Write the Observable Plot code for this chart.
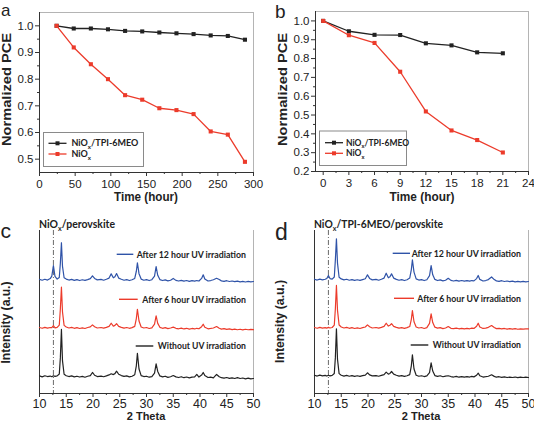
<!DOCTYPE html>
<html>
<head>
<meta charset="utf-8">
<script src="https://cdn.jsdelivr.net/npm/d3@7"></script>
<script src="https://cdn.jsdelivr.net/npm/@observablehq/plot@0.6"></script>
<style>
  html, body { margin: 0; padding: 0; background: #fff; }
  #fig { position: relative; width: 534px; height: 423px; overflow: hidden; background: #fff; }
  #fig svg { position: absolute; }
</style>
</head>
<body>
<div id="fig"></div>
<script>
// ---- (a) stability under continuous illumination, 0–288 h ----
const hoursA = [24, 48, 72, 96, 120, 144, 168, 192, 216, 240, 264, 288];
const pceA_TPI = [1.000, 0.990, 0.990, 0.987, 0.981, 0.979, 0.975, 0.972, 0.969, 0.964, 0.962, 0.948];
const pceA_NiO = [1.000, 0.919, 0.856, 0.800, 0.740, 0.723, 0.691, 0.684, 0.669, 0.604, 0.592, 0.490];

// ---- (b) stability under UV irradiation, 0–21 h ----
const hoursB = [0, 3, 6, 9, 12, 15, 18, 21];
const pceB_TPI = [1.000, 0.945, 0.926, 0.925, 0.881, 0.870, 0.833, 0.828];
const pceB_NiO = [1.000, 0.924, 0.883, 0.730, 0.519, 0.418, 0.367, 0.301];

// ---- axis ticks ----
const ticksA_x = [0, 50, 100, 150, 200, 250, 300];
const minorA_x = [25, 75, 125, 175, 225, 275];
const ticksA_y = [0.5, 0.6, 0.7, 0.8, 0.9, 1.0];
const minorA_y = [0.55, 0.65, 0.75, 0.85, 0.95];
const ticksB_x = [0, 3, 6, 9, 12, 15, 18, 21, 24];
const minorB_x = [1.5, 4.5, 7.5, 10.5, 13.5, 16.5, 19.5, 22.5];
const ticksB_y = [0.2, 0.3, 0.4, 0.5, 0.6, 0.7, 0.8, 0.9, 1.0];
const minorB_y = [0.25, 0.35, 0.45, 0.55, 0.65, 0.75, 0.85, 0.95];
const ticksXRD = [10, 15, 20, 25, 30, 35, 40, 45, 50];
const minorXRD = [12.5, 17.5, 22.5, 27.5, 32.5, 37.5, 42.5, 47.5];

// ---- XRD patterns (2θ in degrees, stacked intensity in a.u.) ----
const twoTheta = [
  10, 10.5, 11, 11.5, 12, 12.3, 12.6, 12.9, 13.3, 13.7,
  13.9, 14.1, 14.3, 14.6, 15, 15.5, 16, 16.5, 17, 17.5,
  18, 18.5, 19, 19.5, 19.9, 20.3, 20.8, 21.5, 22, 22.5,
  23, 23.4, 23.8, 24.1, 24.4, 24.8, 25.3, 25.8, 26.3, 26.8,
  27.3, 27.8, 28.1, 28.3, 28.6, 29, 29.5, 30, 30.5, 31,
  31.5, 31.8, 32.1, 32.5, 33, 33.5, 34, 34.5, 35, 35.5,
  36, 36.5, 37, 37.5, 38, 38.5, 39, 39.4, 39.8, 40.3,
  40.6, 40.9, 41.5, 42, 42.5, 43.1, 43.6, 44, 44.5, 45,
  45.5, 46, 46.5, 47, 47.5, 48, 48.5, 49, 49.5, 50
];
const xrdC_none = [
  10.8, 10.2, 10.9, 10.4, 10.7, 10.3, 10.9, 10.5, 10.8, 12.0,
  22, 39.3, 20, 11.8, 10.9, 10.4, 10.8, 10.2, 10.6, 10.1,
  10.5, 10.0, 10.6, 11.0, 12.9, 11.2, 10.4, 10.7, 10.3, 10.8,
  11.4, 12.1, 11.6, 12.2, 13.7, 11.8, 11.0, 10.5, 10.8, 10.2,
  10.6, 11.5, 17, 24.7, 15, 11.0, 10.4, 10.6, 10.0, 10.4,
  12.5, 18.2, 13.5, 10.8, 10.2, 10.6, 9.9, 10.3, 11.0, 10.2,
  9.8, 10.3, 9.7, 10.1, 9.6, 10.0, 10.2, 11.7, 10.1, 11.3,
  12.9, 11.0, 9.8, 10.0, 9.6, 11.7, 10.3, 9.7, 9.4, 9.8,
  9.3, 9.6, 9.2, 9.7, 9.2, 9.5, 9.0, 9.4, 9.0, 9.2
];
const xrdC_6h = [
  40.5, 40.0, 40.6, 40.1, 40.5, 40.4, 41.7, 40.3, 40.6, 42.0,
  52, 65.2, 50, 41.8, 40.8, 40.2, 40.6, 40.0, 40.4, 39.9,
  40.3, 39.9, 40.5, 40.9, 42.1, 41.0, 40.2, 40.5, 40.1, 40.6,
  41.2, 43.1, 41.3, 41.8, 42.8, 41.2, 40.6, 40.1, 40.5, 40.0,
  40.4, 41.2, 46, 51.7, 44.5, 40.8, 40.2, 40.5, 39.9, 40.3,
  42.5, 47.7, 43.0, 40.6, 40.0, 40.4, 39.8, 40.2, 40.7, 40.0,
  39.7, 40.1, 39.6, 40.0, 39.5, 39.9, 39.6, 40.0, 39.7, 41.0,
  42.5, 40.6, 39.7, 39.9, 40.2, 41.1, 40.0, 39.5, 39.8, 39.3,
  39.6, 39.2, 39.5, 39.1, 39.4, 39.0, 39.4, 39.1, 39.3, 39.2
];
const xrdC_12h = [
  70.0, 69.5, 70.1, 69.6, 70.5, 72.0, 78.5, 71.8, 70.2, 71.2,
  80, 92.5, 78, 71.0, 70.2, 69.6, 70.0, 69.4, 69.9, 69.3,
  69.8, 69.4, 69.9, 70.5, 72.2, 70.6, 69.7, 70.0, 69.5, 70.1,
  70.8, 73.4, 71.0, 71.6, 73.6, 70.8, 70.1, 69.5, 69.9, 69.3,
  69.8, 70.6, 75, 80.2, 73.5, 70.2, 69.5, 69.9, 69.3, 69.8,
  72.0, 77.9, 72.5, 69.9, 69.3, 69.7, 69.1, 69.5, 70.6, 69.4,
  69.0, 69.4, 68.9, 69.3, 68.8, 69.2, 68.9, 69.3, 69.0, 70.6,
  72.8, 70.2, 69.0, 69.3, 69.8, 70.7, 69.9, 69.1, 68.8, 69.2,
  68.7, 69.0, 68.6, 68.9, 68.5, 68.8, 68.4, 68.8, 68.5, 68.7
];
const xrdD_none = [
  11.2, 10.7, 11.3, 10.8, 11.1, 10.7, 11.2, 10.8, 11.1, 12.3,
  22, 39.7, 21, 12.2, 11.2, 10.7, 11.1, 10.6, 11.0, 10.5,
  10.9, 10.5, 11.0, 11.3, 12.7, 11.4, 10.8, 11.0, 10.6, 11.1,
  11.6, 13.1, 11.9, 12.3, 13.5, 11.9, 11.2, 10.7, 11.0, 10.5,
  10.9, 11.6, 17, 23.7, 15, 11.2, 10.6, 10.9, 10.4, 10.8,
  12.8, 18.8, 13.8, 11.0, 10.5, 10.9, 10.3, 10.7, 10.9, 10.4,
  10.1, 10.5, 10.0, 10.4, 10.0, 10.3, 10.1, 10.5, 10.2, 11.2,
  12.5, 10.9, 10.1, 10.3, 10.6, 11.5, 10.5, 10.0, 10.3, 9.9,
  10.2, 9.8, 10.1, 9.8, 10.1, 9.7, 10.0, 9.8, 10.0, 9.8
];
const xrdD_6h = [
  40.5, 40.0, 40.6, 40.1, 40.4, 40.1, 40.6, 40.2, 40.5, 42.0,
  52, 66.3, 51, 42.0, 40.8, 40.2, 40.6, 40.0, 40.4, 39.9,
  40.3, 39.9, 40.4, 40.8, 42.1, 41.0, 40.2, 40.5, 40.1, 40.6,
  41.2, 43.1, 41.4, 41.9, 42.8, 41.2, 40.6, 40.1, 40.4, 40.0,
  40.4, 41.1, 45.5, 50.9, 44, 40.8, 40.2, 40.5, 39.9, 40.4,
  43, 48.9, 43.5, 40.7, 40.1, 40.4, 39.8, 40.2, 41.1, 40.0,
  39.8, 40.1, 39.7, 40.0, 39.6, 40.0, 39.7, 40.1, 39.9, 41.2,
  43.1, 40.8, 39.9, 40.1, 40.6, 41.7, 40.5, 39.8, 40.0, 39.6,
  39.9, 39.5, 39.8, 39.5, 39.8, 39.4, 39.7, 39.5, 39.7, 39.6
];
const xrdD_12h = [
  70.1, 69.6, 70.2, 69.7, 70.1, 70.6, 72.4, 70.5, 70.2, 71.5,
  82, 94.9, 80, 71.3, 70.3, 69.7, 70.1, 69.5, 69.9, 69.4,
  69.8, 69.4, 69.9, 70.4, 72.8, 70.6, 69.7, 70.0, 69.5, 70.1,
  70.8, 73.8, 71.0, 71.6, 73.4, 70.8, 70.0, 69.5, 69.9, 69.3,
  69.8, 70.8, 76, 82.0, 74.5, 70.3, 69.6, 69.9, 69.3, 69.8,
  72.3, 78.5, 72.8, 70.0, 69.3, 69.7, 69.1, 69.5, 70.7, 69.4,
  69.0, 69.4, 68.9, 69.3, 68.9, 69.2, 68.9, 69.3, 69.1, 70.5,
  72.4, 70.0, 69.0, 69.3, 69.9, 71.5, 69.9, 69.1, 68.8, 69.2,
  68.7, 69.0, 68.6, 68.9, 68.5, 68.8, 68.5, 68.8, 68.5, 68.7
];
const niOPeak = 12.6; // NiOx-related reflection, marked by the dash-dot guide

const seriesNames = ["Without UV irradiation", "After 6 hour UV irradiation", "After 12 hour UV irradiation"];
const seriesColors = ["#222222", "#ec3b2b", "#2f53a8"];

const SANS = "'Liberation Sans', Arial, Helvetica, sans-serif";
const LEG = "Lato, 'Open Sans', sans-serif";
const INK = "#222";
const fig = document.getElementById("fig");

function baseStyle(size) {
  return { background: "transparent", overflow: "visible", fontFamily: SANS, fontSize: size, color: INK };
}

// Append a text element; parts may contain subscripts ([text, true]).
function addText(svg, o) {
  const el = d3.select(svg).append("text")
    .attr("x", o.x).attr("y", o.y)
    .attr("font-family", o.family || SANS)
    .attr("font-size", o.size)
    .attr("font-weight", o.weight || "bold")
    .attr("fill", o.fill || INK)
    .attr("text-anchor", o.anchor || "start");
  if (o.rotate) el.attr("transform", `rotate(${o.rotate},${o.x},${o.y})`);
  const parts = typeof o.text === "string" ? [[o.text, false]] : o.text;
  let shifted = false;
  for (const [t, sub] of parts) {
    const ts = el.append("tspan").text(t);
    if (sub && !shifted) { ts.attr("dy", o.size * 0.28).attr("font-size", o.size * 0.68); shifted = true; }
    else if (!sub && shifted) { ts.attr("dy", -o.size * 0.28); shifted = false; }
  }
  if (o.length) el.attr("textLength", o.length).attr("lengthAdjust", "spacingAndGlyphs");
  return el;
}

function place(svg, left, top) {
  svg.style.left = left + "px";
  svg.style.top = top + "px";
  fig.appendChild(svg);
}

// ---- normalized PCE panels ----
function pcePanel(cfg) {
  const rowsTPI = cfg.hours.map((h, i) => ({ h, v: cfg.tpi[i] }));
  const rowsNiO = cfg.hours.map((h, i) => ({ h, v: cfg.nio[i] }));
  return Plot.plot({
    width: 267, height: 210,
    marginTop: cfg.mt, marginBottom: cfg.mb, marginLeft: cfg.ml, marginRight: cfg.mr,
    style: baseStyle("11.5px"),
    x: { domain: cfg.xDomain, label: null },
    y: { domain: cfg.yDomain, label: null },
    marks: [
      Plot.frame({ stroke: "#b4b4b4", strokeWidth: 1 }),
      Plot.ruleX([cfg.xDomain[0]], { stroke: "#333", strokeWidth: 1 }),
      Plot.ruleY([cfg.yDomain[0]], { stroke: "#333", strokeWidth: 1 }),
      Plot.axisX(cfg.xMinor, { tickSize: 2, tickFormat: () => "", label: null, stroke: "#333" }),
      Plot.axisX(cfg.xTicks, { tickSize: 4, tickPadding: 3, label: null, stroke: "#333" }),
      Plot.axisY(cfg.yMinor, { tickSize: 2, tickFormat: () => "", label: null, stroke: "#333" }),
      Plot.axisY(cfg.yTicks, { tickSize: 4, tickPadding: 2, tickFormat: d3.format(".1f"), label: null, stroke: "#333" }),
      Plot.line(rowsTPI, { x: "h", y: "v", stroke: seriesColors[0], strokeWidth: 1.3 }),
      Plot.dot(rowsTPI, { x: "h", y: "v", symbol: "square", r: 2.3, fill: seriesColors[0] }),
      Plot.line(rowsNiO, { x: "h", y: "v", stroke: seriesColors[1], strokeWidth: 1.3 }),
      Plot.dot(rowsNiO, { x: "h", y: "v", symbol: "square", r: 2.3, fill: seriesColors[1] })
    ]
  });
}

function pceLegend(svg, L) {
  const g = d3.select(svg).append("g");
  g.append("rect").attr("x", L.x).attr("y", L.y).attr("width", L.w).attr("height", L.h)
    .attr("fill", "#fff").attr("stroke", "#8a8a8a").attr("stroke-width", 1);
  const entries = [
    { color: seriesColors[0], text: [["NiO", false], ["x", true], ["/TPI-6MEO", false]] },
    { color: seriesColors[1], text: [["NiO", false], ["x", true]] }
  ];
  entries.forEach((e, i) => {
    const y = L.rowY[i];
    g.append("line").attr("x1", L.lx1).attr("x2", L.lx2).attr("y1", y).attr("y2", y)
      .attr("stroke", e.color).attr("stroke-width", 1.3);
    const s = 4;
    g.append("rect").attr("x", (L.lx1 + L.lx2) / 2 - s / 2).attr("y", y - s / 2)
      .attr("width", s).attr("height", s).attr("fill", e.color);
    addText(svg, { x: L.tx, y: y + 3, size: L.size, family: LEG, text: e.text });
  });
}

// (a)
const svgA = pcePanel({
  hours: hoursA, tpi: pceA_TPI, nio: pceA_NiO,
  xDomain: [0, 300], yDomain: [0.45, 1.05],
  xTicks: ticksA_x, xMinor: minorA_x, yTicks: ticksA_y, yMinor: minorA_y,
  mt: 12, mb: 38, ml: 39, mr: 14
});
pceLegend(svgA, { x: 43.5, y: 132.5, w: 100, h: 34, rowY: [143.3, 154], lx1: 48.5, lx2: 66.5, tx: 71.5, size: 9 });
addText(svgA, { x: 1, y: 16, size: 17, weight: "normal", text: "a" });
addText(svgA, { x: 11, y: 89.5, size: 12.5, rotate: -90, anchor: "middle", text: "Normalized PCE", length: 113 });
addText(svgA, { x: 146, y: 201, size: 13, anchor: "middle", text: "Time (hour)", length: 64 });
place(svgA, 0, 0);

// (b)
const svgB = pcePanel({
  hours: hoursB, tpi: pceB_TPI, nio: pceB_NiO,
  xDomain: [-0.9, 24], yDomain: [0.2, 1.05],
  xTicks: ticksB_x, xMinor: minorB_x, yTicks: ticksB_y, yMinor: minorB_y,
  mt: 11, mb: 39, ml: 48, mr: 6
});
pceLegend(svgB, { x: 52.5, y: 131, w: 87, h: 34.5, rowY: [142.7, 153.3], lx1: 58, lx2: 76, tx: 79, size: 8.5 });
addText(svgB, { x: 8, y: 18, size: 19, weight: "normal", text: "b" });
addText(svgB, { x: 19.5, y: 89.5, size: 12.5, rotate: -90, anchor: "middle", text: "Normalized PCE", length: 113 });
addText(svgB, { x: 155, y: 201, size: 13, anchor: "middle", text: "Time (hour)", length: 65 });
place(svgB, 267, 0);

// ---- XRD panels ----
function xrdPanel(cfg) {
  const lines = cfg.patterns.map((vals, k) =>
    Plot.line(vals, { x: (d, i) => twoTheta[i], y: d => d, stroke: seriesColors[k], strokeWidth: 1.2 })
  );
  return Plot.plot({
    width: 267, height: 213,
    marginTop: 20, marginBottom: 30, marginLeft: cfg.ml, marginRight: cfg.mr,
    style: baseStyle("12.5px"),
    x: { domain: [10, 50], label: null },
    y: { domain: [0, 100], axis: null, label: null },
    marks: [
      Plot.ruleX([50], { stroke: "#b4b4b4", strokeWidth: 1 }),
      Plot.ruleX([10], { stroke: "#333", strokeWidth: 1 }),
      Plot.ruleY([0], { stroke: "#333", strokeWidth: 1 }),
      Plot.ruleX([niOPeak], { stroke: "#444", strokeWidth: 0.8, strokeDasharray: "5,2,1,2" }),
      Plot.axisX(minorXRD, { tickSize: 2, tickFormat: () => "", label: null, stroke: "#333" }),
      Plot.axisX(ticksXRD, { tickSize: 4, tickPadding: 2, label: null, stroke: "#333" }),
      ...lines
    ]
  });
}

function xrdLegend(svg, rows) {
  rows.forEach((r, k) => {
    d3.select(svg).append("line").attr("x1", r.x1).attr("x2", r.x2).attr("y1", r.y).attr("y2", r.y)
      .attr("stroke", seriesColors[k]).attr("stroke-width", 1.4);
    addText(svg, { x: r.tx, y: r.y + 3.2, size: 8.8, family: LEG, text: seriesNames[k], length: r.len });
  });
}

// (c)
const svgC = xrdPanel({ patterns: [xrdC_none, xrdC_6h, xrdC_12h], ml: 39, mr: 14 });
xrdLegend(svgC, [
  { x1: 135.7, x2: 153.3, y: 136, tx: 157.7, len: 88.3 },
  { x1: 119, x2: 137.7, y: 89.3, tx: 142.3, len: 103.7 },
  { x1: 116.7, x2: 133.3, y: 44.3, tx: 136.7, len: 109.3 }
]);
addText(svgC, { x: 39, y: 18, size: 10.5, family: LEG, text: [["NiO", false], ["x", true], ["/perovskite", false]], length: 76 });
addText(svgC, { x: 0.5, y: 28.3, size: 21, weight: "normal", text: "c" });
addText(svgC, { x: 10, y: 112.5, size: 12, rotate: -90, anchor: "middle", text: "Intensity (a.u.)", length: 82 });
addText(svgC, { x: 146, y: 210, size: 11, anchor: "middle", text: "2 Theta" });
place(svgC, 0, 210);

// (d)
const svgD = xrdPanel({ patterns: [xrdD_none, xrdD_6h, xrdD_12h], ml: 47, mr: 6 });
xrdLegend(svgD, [
  { x1: 143.7, x2: 161.3, y: 135, tx: 165.7, len: 88.3 },
  { x1: 127, x2: 147, y: 88.3, tx: 150.3, len: 103.7 },
  { x1: 125.7, x2: 143, y: 43.3, tx: 144.7, len: 109.3 }
]);
addText(svgD, { x: 47, y: 18, size: 10.5, family: LEG, text: [["NiO", false], ["x", true], ["/TPI-6MEO/perovskite", false]], length: 129 });
addText(svgD, { x: 8, y: 30, size: 23, weight: "normal", text: "d" });
addText(svgD, { x: 17, y: 111.5, size: 12, rotate: -90, anchor: "middle", text: "Intensity (a.u.)", length: 83 });
addText(svgD, { x: 154, y: 210, size: 11, anchor: "middle", text: "2 Theta" });
place(svgD, 267, 210);
</script>
</body>
</html>
